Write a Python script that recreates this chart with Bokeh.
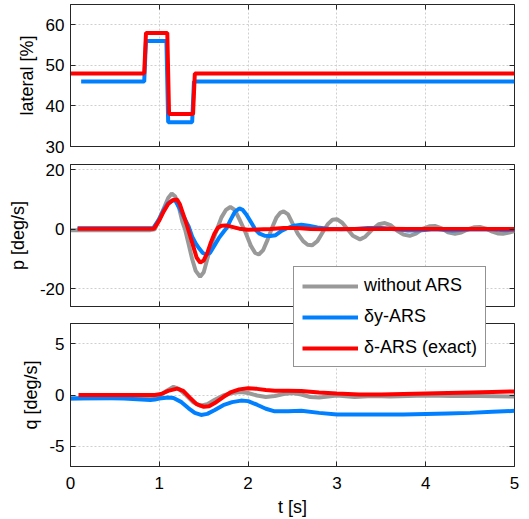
from bokeh.plotting import figure
from bokeh.layouts import column
from bokeh.models import Legend, LegendItem, LinearAxis, FixedTicker, Range1d
from bokeh.embed import file_html
from bokeh.resources import INLINE

# ---------------- data ----------------
x_ticks = [0, 1, 2, 3, 4, 5]

# lateral [%]
lat_red_t = [0.0, 0.83, 0.85, 1.09, 1.11, 1.38, 1.40, 5.0]
lat_red_v = [48, 48, 58, 58, 38, 38, 48, 48]
lat_blue_t = [0.12, 0.83, 0.85, 1.08, 1.10, 1.37, 1.39, 5.0]
lat_blue_v = [46, 46, 56, 56, 36, 36, 46, 46]

# p [deg/s]
p_gray_t = [0.0, 0.9, 0.95, 1.0, 1.05, 1.1, 1.14, 1.18, 1.22, 1.26, 1.29, 1.33, 1.37, 1.41,
            1.46, 1.50, 1.55, 1.60, 1.65, 1.70, 1.75, 1.80, 1.85, 1.90, 1.97, 2.03, 2.08,
            2.12, 2.17, 2.22, 2.27, 2.32, 2.36, 2.40, 2.45, 2.50, 2.56, 2.62, 2.67, 2.72,
            2.78, 2.84, 2.90, 2.95, 3.00, 3.06, 3.12, 3.18, 3.26, 3.32, 3.40, 3.47, 3.54,
            3.61, 3.68, 3.75, 3.82, 3.89, 3.97, 4.04, 4.11, 4.18, 4.25, 4.33, 4.40, 4.48,
            4.55, 4.61, 4.68, 4.75, 4.81, 4.87, 4.94, 5.0]
p_gray_v = [-0.3, -0.3, 0.0, 3.5, 7.0, 10.5, 12.0, 11.0, 7.5, 2.5, 0.0, -5.0, -10.0, -14.0,
            -16.0, -14.5, -9.0, -4.0, 0.0, 4.0, 6.5, 7.5, 6.5, 3.5, -1.0, -5.5, -8.0,
            -8.5, -7.0, -3.5, 0.5, 4.0, 5.5, 6.0, 5.0, 2.0, -1.5, -4.0, -5.2, -5.4,
            -4.0, -1.0, 1.8, 3.2, 3.4, 2.2, 0.0, -2.2, -3.4, -2.5, 0.0, 1.7, 2.1,
            1.3, -0.5, -1.8, -2.2, -1.5, 0.2, 1.0, 1.1, 0.3, -1.0, -1.5, -1.1, 0.0,
            0.7, 0.8, 0.2, -0.8, -1.4, -1.5, -1.1, -0.6]
p_blue_t = [0.08, 0.93, 1.0, 1.05, 1.1, 1.15, 1.18, 1.22, 1.27, 1.33, 1.37, 1.41, 1.45, 1.49,
            1.53, 1.57, 1.62, 1.67, 1.72, 1.76, 1.80, 1.85, 1.90, 1.94, 1.98, 2.03, 2.08,
            2.13, 2.19, 2.25, 2.31, 2.38, 2.45, 2.52, 2.60, 2.68, 2.78, 2.9, 3.05, 3.2,
            3.35, 3.5, 3.65, 3.8, 3.95, 4.1, 4.3, 4.5, 4.7, 4.9, 5.0]
p_blue_v = [0.3, 0.3, 3.5, 6.5, 8.8, 9.7, 9.7, 7.5, 4.5, 1.0, -2.5, -4.8, -6.5, -8.0,
            -8.5, -8.0, -5.5, -3.0, -1.0, 0.5, 3.0, 5.8, 7.0, 6.5, 5.0, 2.5, 0.0,
            -1.5, -2.2, -2.3, -2.0, -0.5, 0.5, 1.2, 1.5, 1.2, 0.6, 0.2, 0.0, 0.1,
            0.4, 0.4, 0.0, -0.4, -0.3, 0.0, -0.4, -0.1, 0.0, -0.3, -0.2]
p_red_t = [0.08, 0.94, 1.0, 1.05, 1.1, 1.15, 1.2, 1.23, 1.27, 1.31, 1.34, 1.38, 1.42, 1.46,
           1.50, 1.54, 1.58, 1.62, 1.66, 1.70, 1.75, 1.82, 1.9, 2.0, 2.1, 2.25, 2.4, 2.55,
           2.7, 2.9, 3.2, 3.5, 3.8, 4.2, 4.6, 5.0]
p_red_v = [0.2, 0.2, 3.0, 6.0, 8.5, 9.8, 10.0, 8.5, 5.0, 1.5, -1.5, -5.5, -9.5, -11.2,
           -10.5, -8.0, -4.5, -1.5, 0.5, 1.2, 1.3, 0.8, 0.2, -0.2, -0.1, 0.1, 0.4, 0.4,
           0.1, 0.0, 0.1, 0.2, 0.1, 0.1, 0.1, 0.1]

# q [deg/s]
q_gray_t = [0.0, 0.5, 0.9, 1.0, 1.08, 1.16, 1.22, 1.3, 1.38, 1.46, 1.54, 1.62, 1.72, 1.82,
            1.92, 2.0, 2.1, 2.2, 2.3, 2.4, 2.5, 2.6, 2.7, 2.8, 2.9, 3.0, 3.2, 3.4, 3.6,
            3.8, 4.0, 4.3, 4.6, 5.0]
q_gray_v = [-0.35, -0.3, -0.3, -0.1, 0.4, 0.8, 0.6, 0.0, -0.7, -1.05, -0.9, -0.5, -0.05, 0.2,
            0.3, 0.2, -0.05, -0.2, -0.1, 0.1, 0.2, 0.05, -0.2, -0.25, -0.15, -0.05, -0.2, -0.1, -0.15,
            -0.1, -0.05, -0.1, -0.1, -0.15]
q_blue_t = [0.0, 0.3, 0.6, 0.9, 0.95, 1.0, 1.1, 1.16, 1.25, 1.33, 1.4, 1.47, 1.54, 1.62,
            1.72, 1.82, 1.92, 2.0, 2.1, 2.2, 2.3, 2.45, 2.6, 2.8, 3.0, 3.25, 3.5, 3.75,
            4.0, 4.25, 4.5, 4.75, 5.0]
q_blue_v = [-0.35, -0.3, -0.35, -0.5, -0.45, -0.35, -0.25, -0.3, -0.7, -1.3, -1.75, -1.95, -1.85, -1.5,
            -1.0, -0.7, -0.55, -0.6, -0.95, -1.35, -1.6, -1.6, -1.55, -1.75, -1.9, -1.9, -1.9, -1.9,
            -1.85, -1.8, -1.75, -1.65, -1.55]
q_red_t = [0.09, 0.95, 1.02, 1.1, 1.2, 1.27, 1.35, 1.42, 1.5, 1.56, 1.64, 1.72, 1.8, 1.9,
           2.0, 2.1, 2.2, 2.3, 2.45, 2.6, 2.8, 3.0, 3.25, 3.5, 3.75, 4.0, 4.25, 4.5, 4.75, 5.0]
q_red_v = [0.0, 0.0, 0.1, 0.4, 0.62, 0.4, -0.3, -0.9, -1.15, -1.1, -0.7, -0.2, 0.25, 0.55,
           0.65, 0.6, 0.5, 0.42, 0.42, 0.38, 0.25, 0.15, 0.05, 0.05, 0.1, 0.15, 0.2, 0.25, 0.3, 0.35]

labels = ["without ARS", "\u03b4y-ARS", "\u03b4-ARS (exact)"]

# ---------------- style ----------------
FONT = "Liberation Sans"
AX = "#262626"
GRID = "#cfcfcf"
C_GRAY = "#999999"
C_BLUE = "#0080ff"
C_RED = "#ff0000"
LW = 4
LEFT = 70


def style_axis(ax, ticks, show_labels=True):
    ax.ticker = FixedTicker(ticks=ticks, minor_ticks=[])
    ax.axis_line_color = AX
    ax.major_tick_line_color = AX
    ax.major_tick_in = 5
    ax.major_tick_out = 0
    ax.minor_tick_line_color = None
    ax.major_label_text_font = FONT
    ax.major_label_text_font_size = "17px"
    ax.major_label_text_color = "#000000"
    ax.axis_label_text_font = FONT
    ax.axis_label_text_font_size = "18px"
    ax.axis_label_text_font_style = "normal"
    ax.axis_label_text_color = "#000000"
    if show_labels:
        ax.major_label_overrides = {t: ("-" + str(abs(t)) if t < 0 else str(t)) for t in ticks}
    else:
        ax.major_label_overrides = {t: "" for t in ticks}
        ax.major_label_standoff = 0


def make_fig(ylim, yticks, ylabel, fh, mbt, mbb, show_x, ylab_standoff):
    p = figure(frame_width=444, frame_height=fh, x_range=Range1d(0, 5),
               y_range=Range1d(*ylim), output_backend="svg", toolbar_location=None,
               min_border_left=LEFT, min_border_right=10, min_border_top=mbt,
               min_border_bottom=mbb)
    p.outline_line_color = AX
    p.outline_line_alpha = 1
    p.outline_line_width = 1
    style_axis(p.xaxis[0], x_ticks, show_x)
    style_axis(p.yaxis[0], yticks, True)
    p.yaxis[0].axis_label = ylabel
    p.yaxis[0].major_label_standoff = 6
    p.yaxis[0].axis_label_standoff = ylab_standoff
    if show_x:
        p.xaxis[0].axis_label = "t [s]"
        p.xaxis[0].major_label_standoff = 10
        p.xaxis[0].axis_label_standoff = 5
    top = LinearAxis()
    style_axis(top, x_ticks, False)
    top.axis_line_color = None
    p.add_layout(top, "above")
    right = LinearAxis()
    style_axis(right, yticks, False)
    right.axis_line_color = None
    p.add_layout(right, "right")
    for g in (p.xgrid[0], p.ygrid[0]):
        g.grid_line_color = GRID
        g.grid_line_dash = "2 2"
        g.grid_line_width = 1
    return p


f1 = make_fig((30, 65), [30, 40, 50, 60], "lateral [%]", 142, 4, 12, False, 6)
f1.line(lat_blue_t, lat_blue_v, color=C_BLUE, line_width=LW)
f1.line(lat_red_t, lat_red_v, color=C_RED, line_width=LW)

f2 = make_fig((-26, 21.8), [-20, 0, 20], "p [deg/s]", 142, 6, 9, False, 9)
f2.line(p_gray_t, p_gray_v, color=C_GRAY, line_width=LW)
f2.line(p_blue_t, p_blue_v, color=C_BLUE, line_width=LW)
f2.line(p_red_t, p_red_v, color=C_RED, line_width=LW)

f3 = make_fig((-7, 7), [-5, 0, 5], "q [deg/s]", 143, 8, 40, True, 5)
f3.line(q_gray_t, q_gray_v, color=C_GRAY, line_width=LW)
f3.line(q_blue_t, q_blue_v, color=C_BLUE, line_width=LW)
f3.line(q_red_t, q_red_v, color=C_RED, line_width=LW)

# legend overlay (its frame is aligned with the other frames, so offset by LEFT)
lf = figure(width=LEFT + 215, height=110, x_range=Range1d(0, 1), y_range=Range1d(0, 1),
            output_backend="svg", toolbar_location=None, min_border=0,
            min_border_left=0, min_border_right=0, min_border_top=0, min_border_bottom=0,
            x_axis_type=None, y_axis_type=None,
            styles={"position": "absolute", "left": "%dpx" % (293 - LEFT), "top": "266px"})
lf.grid.visible = False
lf.outline_line_color = None
lf.background_fill_color = None
lf.border_fill_color = None
rg = lf.line([-5, -4], [-5, -5], color=C_GRAY, line_width=LW)
rb = lf.line([-5, -4], [-5, -5], color=C_BLUE, line_width=LW)
rr = lf.line([-5, -4], [-5, -5], color=C_RED, line_width=LW)
legend = Legend(items=[LegendItem(label=labels[0], renderers=[rg]),
                       LegendItem(label=labels[1], renderers=[rb]),
                       LegendItem(label=labels[2], renderers=[rr])],
                location="top_left", margin=0, padding=8, spacing=10,
                glyph_width=56, glyph_height=18, label_height=18, label_standoff=6,
                label_text_font=FONT, label_text_font_size="18px",
                label_text_color="#000000",
                border_line_color=AX, border_line_width=1,
                background_fill_color="white", background_fill_alpha=1)
lf.add_layout(legend, "center")

layout = column(f1, f2, f3, lf, spacing=0)

open("out.html", "w").write(file_html(layout, INLINE))
